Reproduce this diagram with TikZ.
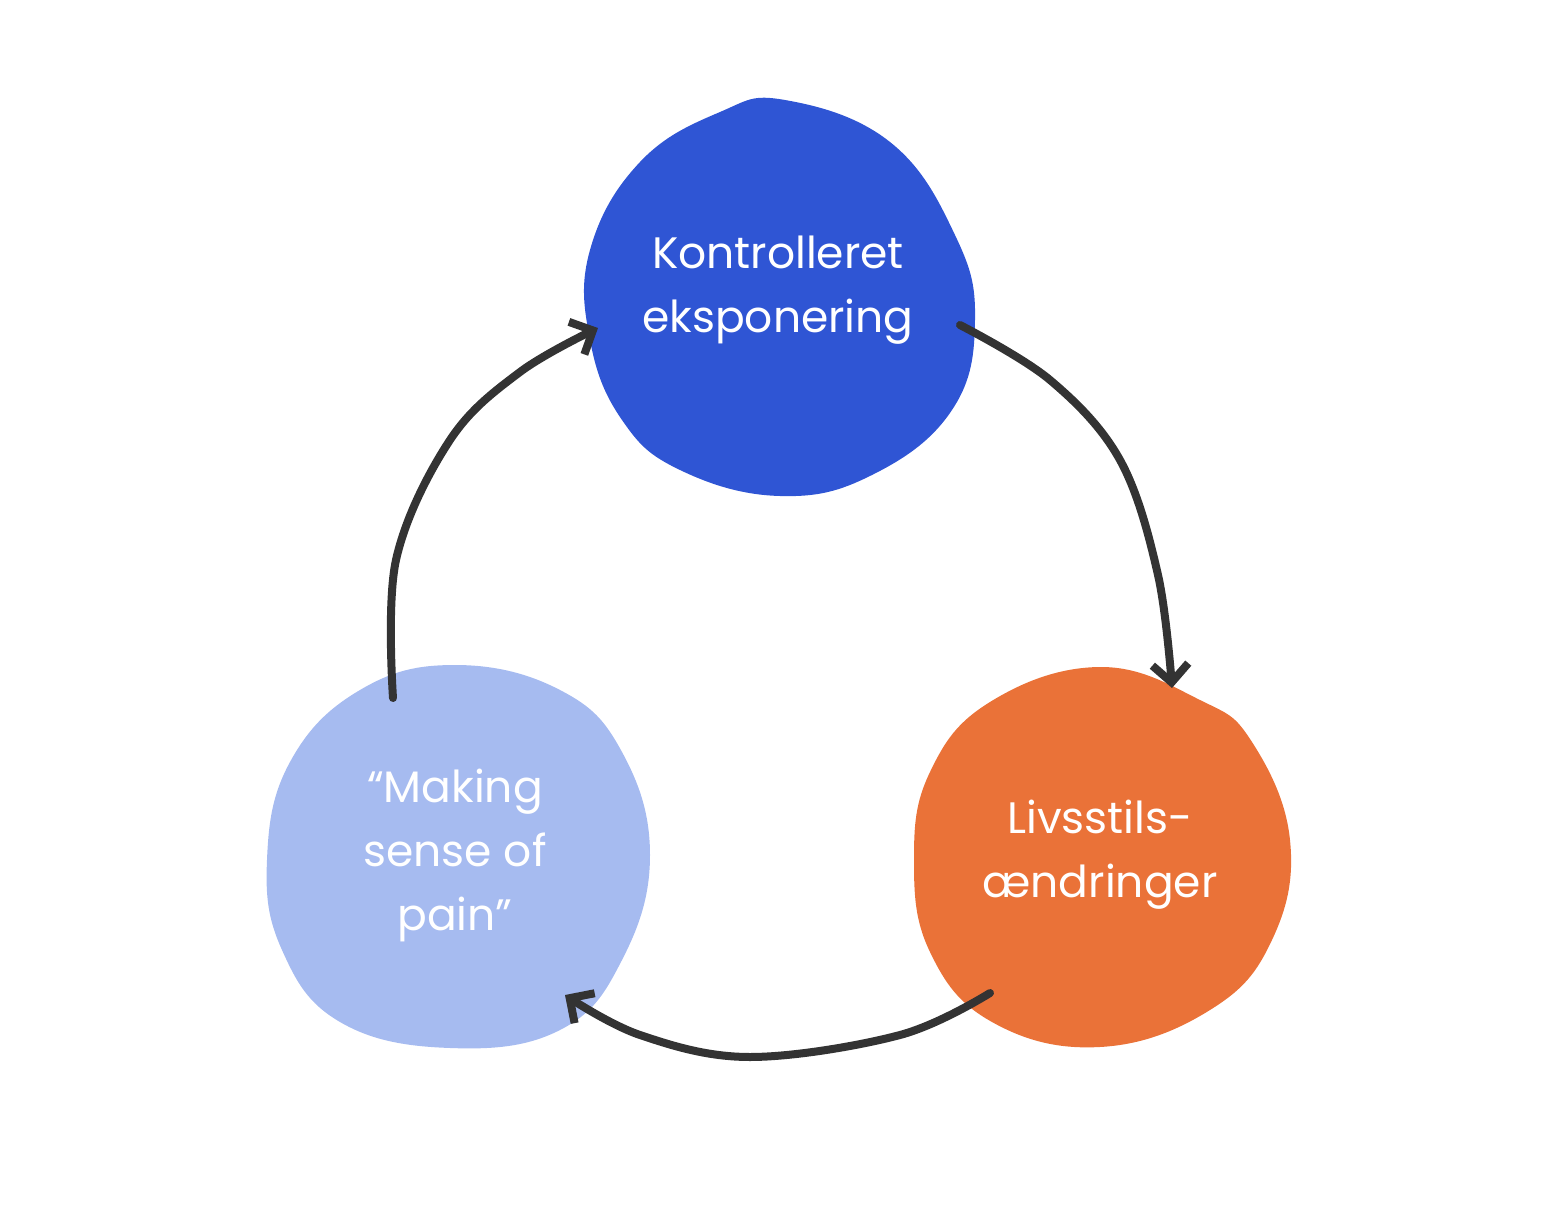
\documentclass[tikz,border=0pt]{standalone}
\usepackage{fontspec}
\setmainfont{Poppins}
\usetikzlibrary{arrows.meta}
\definecolor{bblue}{HTML}{2F55D4}
\definecolor{borange}{HTML}{EA7238}
\definecolor{blight}{HTML}{A6BBF0}
\definecolor{arr}{HTML}{333333}
\begin{document}
\begin{tikzpicture}[x=0.5pt,y=-0.5pt,
  lab/.style={text=white,font=\fontsize{22}{32}\selectfont,align=center},
  conn/.style={draw=arr,line width=4pt,line cap=round,line join=round,-{Straight Barb[length=9pt,width=18pt,line width=4pt]}}]
\useasboundingbox (0,0) rectangle (1560,1215);
\fill[bblue] plot[smooth cycle,tension=0.7] coordinates {(785,100)(890,142)(955,235)(975,320)(952,410)(872,475)(780,496)(680,470)(622,420)(590,340)(590,250)(640,162)(720,112)};
\fill[borange] plot[smooth cycle,tension=0.7] coordinates {(1100,667)(1200,700)(1252,742)(1290,840)(1272,940)(1210,1010)(1100,1047)(992,1022)(930,952)(914,860)(930,772)(990,702)};
\fill[blight] plot[smooth cycle,tension=0.7] coordinates {(455,665)(560,690)(622,752)(650,855)(622,960)(560,1030)(450,1048)(340,1022)(282,950)(267,860)(290,762)(360,690)};
\node[lab] (k) at (778,290) {Kontrolleret\\eksponering};
\node[lab] (l) at (1100,855) {Livsstils-\\ændringer};
\node[lab] (m) at (455,855) {“Making\\sense of\\pain”};
\draw[conn] plot[smooth,tension=0.6] coordinates {(960,325)(1050,380)(1120,460)(1158,575)(1172,688)};
\draw[conn] plot[smooth,tension=0.6] coordinates {(990,993)(900,1035)(750,1057)(640,1035)(565,995)};
\draw[conn] plot[smooth,tension=0.6] coordinates {(393,698)(396,560)(450,440)(520,372)(598,328)};
\end{tikzpicture}
\end{document}
